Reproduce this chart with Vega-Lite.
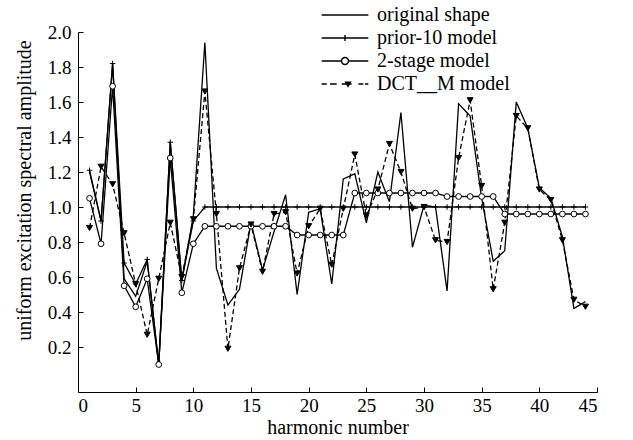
{
  "$schema": "https://vega.github.io/schema/vega-lite/v6.json",
  "width": 519,
  "height": 360,
  "autosize": "none",
  "padding": {"left": 78, "top": 32, "right": 36, "bottom": 48},
  "background": "white",
  "config": {
    "font": "Liberation Serif",
    "view": {"stroke": null},
    "axis": {
      "grid": false,
      "domainColor": "black",
      "tickColor": "black",
      "labelColor": "black",
      "titleColor": "black",
      "labelFont": "Liberation Serif",
      "titleFont": "Liberation Serif",
      "labelFontSize": 19,
      "titleFontSize": 20,
      "titleFontWeight": "normal",
      "tickSize": -5,
      "domainWidth": 1,
      "tickWidth": 1
    },
    "legend": {
      "labelFont": "Liberation Serif",
      "labelFontSize": 20,
      "labelColor": "black"
    }
  },
  "data": {
    "values": [
      {"h": 1, "original shape": 1.2, "prior-10 model": 1.21, "2-stage model": 1.05, "DCT__M model": 0.88},
      {"h": 2, "original shape": 0.92, "prior-10 model": 0.92, "2-stage model": 0.79, "DCT__M model": 1.23},
      {"h": 3, "original shape": 1.82, "prior-10 model": 1.82, "2-stage model": 1.69, "DCT__M model": 1.13},
      {"h": 4, "original shape": 0.59, "prior-10 model": 0.68, "2-stage model": 0.55, "DCT__M model": 0.85},
      {"h": 5, "original shape": 0.49, "prior-10 model": 0.56, "2-stage model": 0.43, "DCT__M model": 0.56},
      {"h": 6, "original shape": 0.69, "prior-10 model": 0.7, "2-stage model": 0.59, "DCT__M model": 0.27},
      {"h": 7, "original shape": 0.1, "prior-10 model": 0.1, "2-stage model": 0.1, "DCT__M model": 0.59},
      {"h": 8, "original shape": 1.37, "prior-10 model": 1.37, "2-stage model": 1.28, "DCT__M model": 0.91},
      {"h": 9, "original shape": 0.58, "prior-10 model": 0.58, "2-stage model": 0.51, "DCT__M model": 0.6},
      {"h": 10, "original shape": 0.95, "prior-10 model": 0.92, "2-stage model": 0.79, "DCT__M model": 0.93},
      {"h": 11, "original shape": 1.94, "prior-10 model": 1.0, "2-stage model": 0.89, "DCT__M model": 1.66},
      {"h": 12, "original shape": 0.65, "prior-10 model": 1.0, "2-stage model": 0.89, "DCT__M model": 0.96},
      {"h": 13, "original shape": 0.44, "prior-10 model": 1.0, "2-stage model": 0.89, "DCT__M model": 0.19},
      {"h": 14, "original shape": 0.53, "prior-10 model": 1.0, "2-stage model": 0.89, "DCT__M model": 0.65},
      {"h": 15, "original shape": 0.91, "prior-10 model": 1.0, "2-stage model": 0.89, "DCT__M model": 0.9},
      {"h": 16, "original shape": 0.64, "prior-10 model": 1.0, "2-stage model": 0.89, "DCT__M model": 0.63},
      {"h": 17, "original shape": 0.86, "prior-10 model": 1.0, "2-stage model": 0.89, "DCT__M model": 0.96},
      {"h": 18, "original shape": 1.07, "prior-10 model": 1.0, "2-stage model": 0.89, "DCT__M model": 0.97},
      {"h": 19, "original shape": 0.5, "prior-10 model": 1.0, "2-stage model": 0.84, "DCT__M model": 0.62},
      {"h": 20, "original shape": 0.97, "prior-10 model": 1.0, "2-stage model": 0.84, "DCT__M model": 0.89},
      {"h": 21, "original shape": 0.99, "prior-10 model": 1.0, "2-stage model": 0.84, "DCT__M model": 0.99},
      {"h": 22, "original shape": 0.56, "prior-10 model": 1.0, "2-stage model": 0.84, "DCT__M model": 0.67},
      {"h": 23, "original shape": 1.16, "prior-10 model": 1.0, "2-stage model": 0.84, "DCT__M model": 0.99},
      {"h": 24, "original shape": 1.19, "prior-10 model": 1.0, "2-stage model": 1.08, "DCT__M model": 1.3},
      {"h": 25, "original shape": 0.91, "prior-10 model": 1.0, "2-stage model": 1.08, "DCT__M model": 0.95},
      {"h": 26, "original shape": 1.2, "prior-10 model": 1.0, "2-stage model": 1.08, "DCT__M model": 1.1},
      {"h": 27, "original shape": 1.03, "prior-10 model": 1.0, "2-stage model": 1.08, "DCT__M model": 1.36},
      {"h": 28, "original shape": 1.54, "prior-10 model": 1.0, "2-stage model": 1.08, "DCT__M model": 1.2},
      {"h": 29, "original shape": 0.77, "prior-10 model": 1.0, "2-stage model": 1.08, "DCT__M model": 0.99},
      {"h": 30, "original shape": 1.01, "prior-10 model": 1.0, "2-stage model": 1.08, "DCT__M model": 1.0},
      {"h": 31, "original shape": 1.0, "prior-10 model": 1.0, "2-stage model": 1.08, "DCT__M model": 0.81},
      {"h": 32, "original shape": 0.52, "prior-10 model": 1.0, "2-stage model": 1.06, "DCT__M model": 0.8},
      {"h": 33, "original shape": 1.59, "prior-10 model": 1.0, "2-stage model": 1.06, "DCT__M model": 1.28},
      {"h": 34, "original shape": 1.52, "prior-10 model": 1.0, "2-stage model": 1.06, "DCT__M model": 1.61},
      {"h": 35, "original shape": 1.05, "prior-10 model": 1.0, "2-stage model": 1.06, "DCT__M model": 1.12},
      {"h": 36, "original shape": 0.69, "prior-10 model": 1.0, "2-stage model": 1.06, "DCT__M model": 0.53},
      {"h": 37, "original shape": 0.75, "prior-10 model": 1.0, "2-stage model": 0.96, "DCT__M model": 0.91},
      {"h": 38, "original shape": 1.6, "prior-10 model": 1.0, "2-stage model": 0.96, "DCT__M model": 1.52},
      {"h": 39, "original shape": 1.45, "prior-10 model": 1.0, "2-stage model": 0.96, "DCT__M model": 1.45},
      {"h": 40, "original shape": 1.11, "prior-10 model": 1.0, "2-stage model": 0.96, "DCT__M model": 1.1},
      {"h": 41, "original shape": 1.05, "prior-10 model": 1.0, "2-stage model": 0.96, "DCT__M model": 1.04},
      {"h": 42, "original shape": 0.83, "prior-10 model": 1.0, "2-stage model": 0.96, "DCT__M model": 0.81},
      {"h": 43, "original shape": 0.42, "prior-10 model": 1.0, "2-stage model": 0.96, "DCT__M model": 0.47},
      {"h": 44, "original shape": 0.46, "prior-10 model": 1.0, "2-stage model": 0.96, "DCT__M model": 0.43}
    ]
  },
  "transform": [
    {"fold": ["original shape", "prior-10 model", "2-stage model", "DCT__M model"], "as": ["series", "v"]}
  ],
  "encoding": {
    "x": {
      "field": "h",
      "type": "quantitative",
      "scale": {"domain": [0, 45], "nice": false},
      "axis": {
        "values": [0, 5, 10, 15, 20, 25, 30, 35, 40, 45],
        "title": "harmonic number",
        "labelPadding": 9,
        "titleY": 35,
        "titleBaseline": "middle"
      }
    },
    "y": {
      "field": "v",
      "type": "quantitative",
      "scale": {"domain": [-0.057, 2.0], "nice": false, "zero": false},
      "axis": {
        "values": [0.2, 0.4, 0.6, 0.8, 1.0, 1.2, 1.4, 1.6, 1.8, 2.0],
        "format": ".1f",
        "title": "uniform excitation spectral amplitude",
        "labelPadding": 12,
        "titleX": -54,
        "titleY": 158,
        "titleBaseline": "middle",
        "titleAngle": -90
      }
    }
  },
  "layer": [
    {
      "mark": {"type": "line", "stroke": "black", "strokeWidth": 1.3},
      "encoding": {
        "strokeDash": {
          "field": "series",
          "type": "nominal",
          "scale": {
            "domain": ["original shape", "prior-10 model", "2-stage model", "DCT__M model"],
            "range": [[1, 0], [1, 0], [1, 0], [5, 3]]
          },
          "legend": null
        },
        "detail": {"field": "series", "type": "nominal"}
      }
    },
    {
      "transform": [{"filter": "datum.series !== 'original shape'"}],
      "mark": {"type": "point", "filled": true, "stroke": "black", "strokeWidth": 1, "opacity": 1},
      "encoding": {
        "shape": {
          "field": "series",
          "type": "nominal",
          "scale": {
            "domain": ["prior-10 model", "2-stage model", "DCT__M model"],
            "range": ["M-1,0H1M0,-1V1", "circle", "triangle-down"]
          },
          "legend": null
        },
        "fill": {
          "field": "series",
          "type": "nominal",
          "scale": {
            "domain": ["prior-10 model", "2-stage model", "DCT__M model"],
            "range": ["transparent", "white", "black"]
          },
          "legend": null
        },
        "size": {
          "field": "series",
          "type": "nominal",
          "scale": {
            "domain": ["prior-10 model", "2-stage model", "DCT__M model"],
            "range": [30, 36, 9]
          },
          "legend": null
        }
      }
    },
    {
      "mark": {"type": "point", "filled": true, "opacity": 0, "size": 585, "strokeWidth": 1.4},
      "encoding": {
        "shape": {
          "field": "series",
          "type": "nominal",
          "scale": {
            "domain": ["original shape", "prior-10 model", "2-stage model", "DCT__M model"],
            "range": [
              "M-1.93,0H1.93",
              "M-1.93,0H1.93M0,-0.25V0.25",
              "M-1.93,0H-0.29M0.29,0H1.93M-0.29,0A0.29,0.29,0,1,0,0.29,0A0.29,0.29,0,1,0,-0.29,0",
              "M-1.93,0H-1.51M-1.24,0H-0.69M-0.27,0H0.55M1.11,0H1.52M1.65,0H1.93M0.05,-0.15L0.45,-0.15L0.25,0.2Z"
            ]
          },
          "legend": {
            "title": null,
            "orient": "none",
            "legendX": 254,
            "legendY": -30,
            "symbolSize": 585,
            "symbolOpacity": 1,
            "symbolStrokeWidth": 1.4,
            "labelOffset": 19,
            "rowPadding": -2,
            "padding": 0
          }
        },
        "fill": {
          "field": "series",
          "type": "nominal",
          "scale": {
            "domain": ["original shape", "prior-10 model", "2-stage model", "DCT__M model"],
            "range": ["transparent", "transparent", "white", "black"]
          },
          "legend": {
            "title": null,
            "orient": "none",
            "legendX": 254,
            "legendY": -30,
            "symbolSize": 585,
            "symbolOpacity": 1,
            "symbolStrokeWidth": 1.4,
            "labelOffset": 19,
            "rowPadding": -2,
            "padding": 0
          }
        },
        "stroke": {
          "field": "series",
          "type": "nominal",
          "scale": {
            "domain": ["original shape", "prior-10 model", "2-stage model", "DCT__M model"],
            "range": ["black", "black", "black", "black"]
          },
          "legend": {
            "title": null,
            "orient": "none",
            "legendX": 254,
            "legendY": -30,
            "symbolSize": 585,
            "symbolOpacity": 1,
            "symbolStrokeWidth": 1.4,
            "labelOffset": 19,
            "rowPadding": -2,
            "padding": 0
          }
        }
      }
    }
  ],
  "resolve": {
    "scale": {"shape": "independent", "fill": "independent", "size": "independent", "stroke": "independent"},
    "legend": {"shape": "independent", "fill": "independent", "stroke": "independent"}
  }
}
